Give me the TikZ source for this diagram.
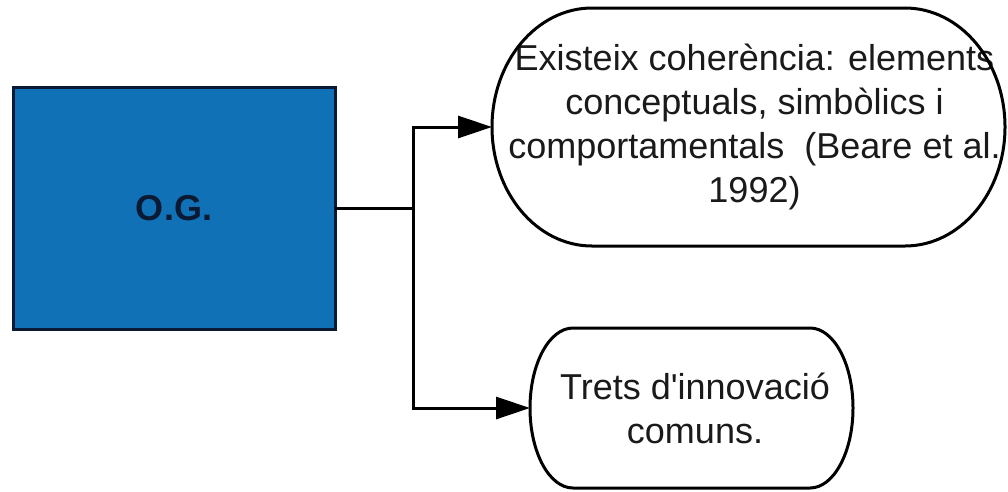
\documentclass[tikz,border=0pt]{standalone}
\usepackage{fontspec}
\setmainfont{Liberation Sans}
\newfontfamily\plainsans{Liberation Sans}
\usetikzlibrary{arrows.meta}
\definecolor{ogblue}{HTML}{1171B7}
\definecolor{ogdark}{HTML}{0A1A33}
\definecolor{txt}{HTML}{1A1A1A}
\tikzset{
  ogbox/.style={draw=ogdark, fill=ogblue, line width=3pt, minimum width=322pt, minimum height=242pt,
    inner sep=0pt, outer sep=0pt, font=\fontsize{36}{43}\selectfont\bfseries, text=ogdark},
  stadiumbox/.style={draw=none, inner sep=0pt, outer sep=0pt, align=center,
    font=\plainsans\fontsize{36}{44}\selectfont, text=txt},
  shapeline/.style={draw=black, line width=3pt},
  conn/.style={draw=black, line width=3pt},
  arr/.style={conn, -{Triangle[length=34pt,width=22pt]}}
}
\newcommand{\stadiumoutline}[3]{%
  \draw[shapeline] ([xshift=#2]#1.north west) -- ([xshift=-#2]#1.north east)
    arc[start angle=90,end angle=-90,x radius=#2,y radius=#3]
    -- ([xshift=#2]#1.south west)
    arc[start angle=270,end angle=90,x radius=#2,y radius=#3] -- cycle;}
\newcommand{\lpad}[1]{\hspace*{#1}}
\begin{document}
\begin{tikzpicture}[x=1pt,y=1pt]
\useasboundingbox (0,0) rectangle (1008,-491);
\fill[white] (0,0) rectangle (1008,-491);

\node[ogbox] (og) at (174,-208) {O.G.};

\node[stadiumbox, minimum width=513pt, minimum height=238pt] (s1) at (748.5,-127)
  {\lpad{12pt}Existeix coherència: elements\\\lpad{12pt}conceptuals, simbòlics i\\\lpad{12pt}comportamentals\ \ (Beare et al.\\\lpad{12pt}1992)};
\stadiumoutline{s1}{100pt}{119pt}

\node[stadiumbox, minimum width=323pt, minimum height=160pt] (s2) at (691.5,-408)
  {\lpad{7pt}Trets d'innovació\\\lpad{7pt}comuns.};
\stadiumoutline{s2}{43pt}{80pt}

\coordinate (j) at (413,-208);
\draw[conn] (og.east) -- (j);
\draw[arr] (j) |- (s1.west);
\draw[arr] (j) |- (s2.west);
\end{tikzpicture}
\end{document}
